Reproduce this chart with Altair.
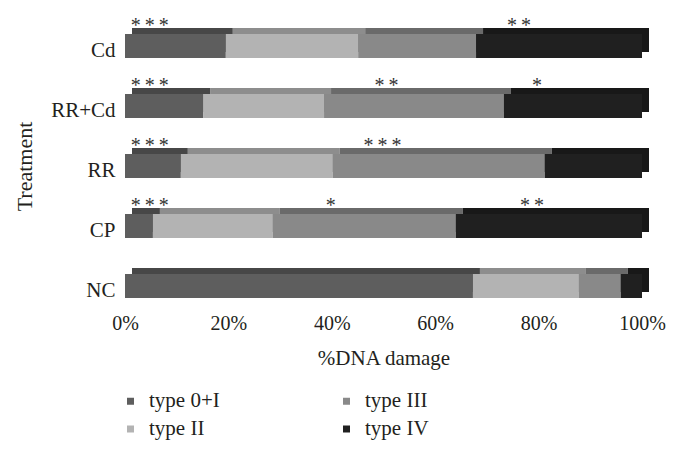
import altair as alt
import pandas as pd

# ---- data ----
treatments = ["Cd", "RR+Cd", "RR", "CP", "NC"]
types = ["type 0+I", "type II", "type III", "type IV"]
type_0_I = [19.5, 15.1, 10.8, 5.4, 67.3]
type_II = [25.6, 23.4, 29.4, 23.2, 20.5]
type_III = [22.8, 34.8, 41.0, 35.4, 8.1]
type_IV = [32.1, 26.7, 18.8, 36.0, 4.1]

front_colors = ["#5e5e5e", "#b3b3b3", "#898989", "#202020"]
top_colors = ["#474747", "#8d8d8d", "#6a6a6a", "#181818"]

# significance marks (treatment, x position in %, number of asterisks)
ann_treatment = ["Cd", "Cd", "RR+Cd", "RR+Cd", "RR+Cd", "RR", "RR", "CP", "CP", "CP"]
ann_pos = [4.8, 76.2, 4.8, 50.6, 79.7, 4.8, 49.8, 4.8, 39.8, 78.7]
ann_stars = [3, 2, 3, 2, 1, 3, 3, 3, 1, 2]

x_ticks = [0, 20, 40, 60, 80, 100]

FONT = "Liberation Serif"
TEXT_COLOR = "#231f20"

# ---- build tables ----
series = [type_0_I, type_II, type_III, type_IV]
rows = []
for ti, t in enumerate(types):
    for i, tr in enumerate(treatments):
        rows.append({"treatment": tr, "type": t, "idx": ti,
                     "value": series[ti][i], "top": top_colors[ti]})
df = pd.DataFrame(rows)
ann = pd.DataFrame({"treatment": ann_treatment, "pos": ann_pos,
                    "label": ["\u2009".join(["*"] * n) for n in ann_stars]})

y_enc = alt.Y(
    "treatment:N", sort=treatments,
    scale=alt.Scale(paddingInner=0.6, paddingOuter=0.3),
    axis=alt.Axis(title="Treatment", domain=False, ticks=False, tickSize=0,
                  labelPadding=10, labelOffset=5, labelFontSize=21,
                  labelFont=FONT, labelColor=TEXT_COLOR,
                  titleFont=FONT, titleFontSize=22, titleFontWeight="normal",
                  titleColor=TEXT_COLOR, titleX=-94, titleBaseline="alphabetic"),
)
x_enc = alt.X(
    "value:Q", stack="zero",
    scale=alt.Scale(domain=[0, 100], nice=False),
    axis=alt.Axis(title="%DNA damage", values=x_ticks, labelExpr="datum.value + '%'",
                  domain=False, ticks=False, tickSize=0, grid=False,
                  labelPadding=-3, labelFontSize=20, labelFont=FONT,
                  labelColor=TEXT_COLOR, labelFlush=False,
                  titleFont=FONT, titleFontSize=21, titleFontWeight="normal",
                  titleColor=TEXT_COLOR, titleY=48, titleBaseline="alphabetic"),
)

base = alt.Chart(df)

back = base.mark_bar(xOffset=7, x2Offset=7, yOffset=-6, y2Offset=-6).encode(
    x=x_enc, y=y_enc,
    color=alt.Color("top:N", scale=None),
    order=alt.Order("idx:Q"),
)

front = base.mark_bar().encode(
    x=x_enc, y=y_enc,
    color=alt.Color(
        "type:N",
        scale=alt.Scale(domain=types, range=front_colors),
        legend=alt.Legend(title=None, orient="none", legendX=-5, legendY=374.5,
                          columns=2, symbolType="square", symbolSize=49,
                          symbolStrokeWidth=0, labelFontSize=21, labelFont=FONT,
                          labelColor=TEXT_COLOR, labelOffset=8, rowPadding=6,
                          columnPadding=116, padding=0),
    ),
    order=alt.Order("idx:Q"),
)

stars = alt.Chart(ann).mark_text(
    font=FONT, fontSize=20, color="#333333", yOffset=-20, baseline="middle"
).encode(
    x=alt.X("pos:Q"),
    y=alt.Y("treatment:N", sort=treatments),
    text="label:N",
)

chart = alt.layer(back, front, stars).properties(
    width=517, height=300,
    autosize=alt.AutoSizeParams(type="none"),
    padding={"left": 117, "top": 8, "right": 25, "bottom": 125},
).configure_view(stroke=None)

chart.save("out.html", embed_options={"renderer": "svg", "actions": False})
